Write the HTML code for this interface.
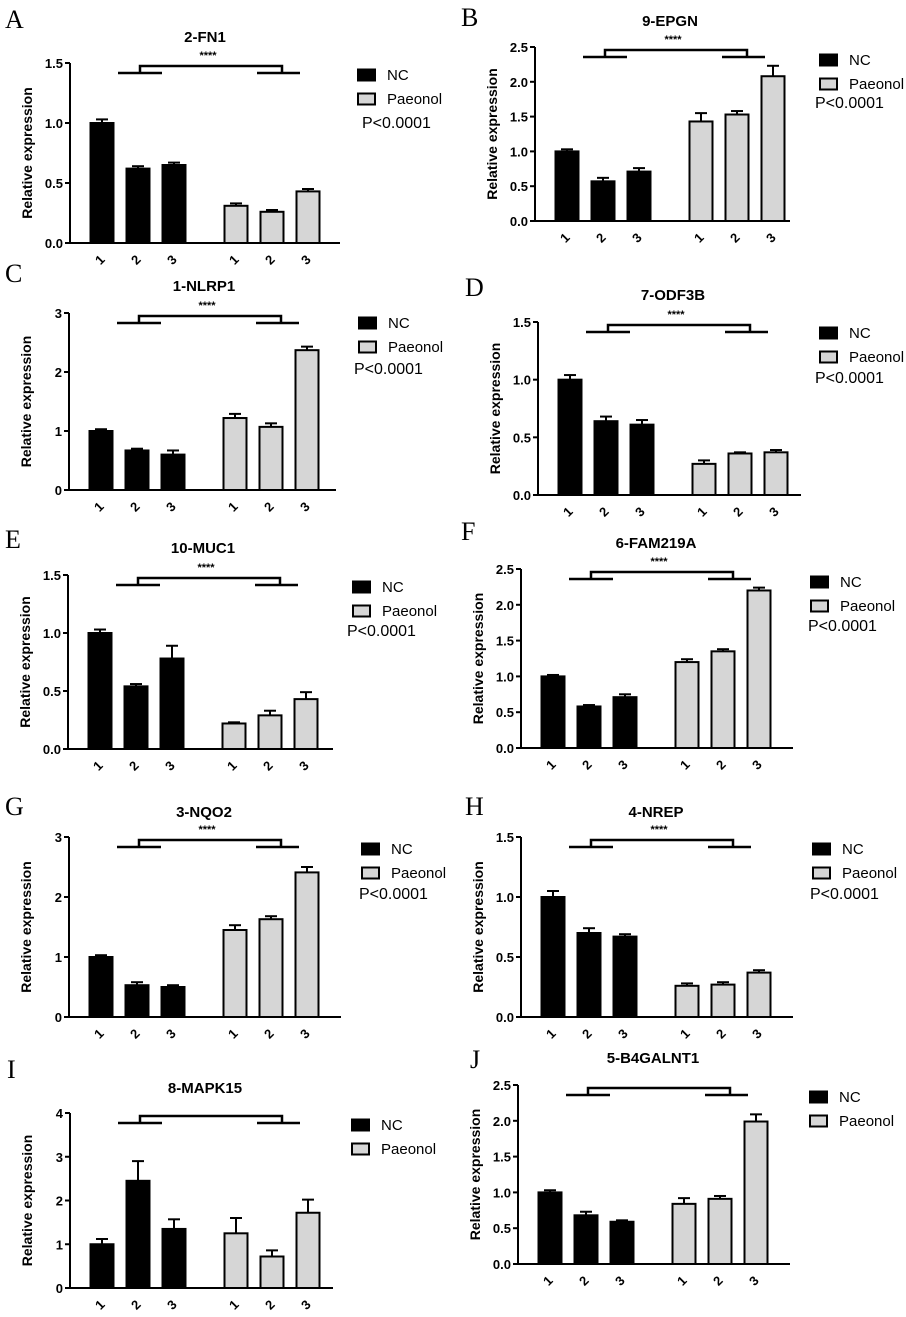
<!DOCTYPE html>
<html><head><meta charset="utf-8">
<style>
html,body{margin:0;padding:0;background:#fff;}
svg{display:block;font-family:"Liberation Sans",Arial,sans-serif;}
</style></head>
<body>
<svg id="fig" width="906" height="1317" viewBox="0 0 906 1317" xmlns="http://www.w3.org/2000/svg"></svg>
<script>
// ---- data ----
const categories = ["1","2","3"];
const groups = ["NC","Paeonol"];
const titles = ["2-FN1","9-EPGN","1-NLRP1","7-ODF3B","10-MUC1","6-FAM219A","3-NQO2","4-NREP","8-MAPK15","5-B4GALNT1"];
const letters = ["A","B","C","D","E","F","G","H","I","J"];
const yMaxes = [1.5,2.5,3,1.5,1.5,2.5,3,1.5,4,2.5];
const tickA = ["0.0","0.5","1.0","1.5"];
const tickB = ["0.0","0.5","1.0","1.5","2.0","2.5"];
const tickC = ["0","1","2","3"];
const tickI = ["0","1","2","3","4"];
const ncA=[1.0,0.62,0.65], ncAErr=[0.03,0.02,0.02], paA=[0.31,0.26,0.43], paAErr=[0.02,0.015,0.02];
const ncB=[1.0,0.57,0.71], ncBErr=[0.03,0.05,0.05], paB=[1.43,1.53,2.08], paBErr=[0.12,0.05,0.15];
const ncC=[1.0,0.67,0.60], ncCErr=[0.03,0.03,0.07], paC=[1.22,1.07,2.37], paCErr=[0.07,0.06,0.06];
const ncD=[1.0,0.64,0.61], ncDErr=[0.04,0.04,0.04], paD=[0.27,0.36,0.37], paDErr=[0.03,0.01,0.02];
const ncE=[1.0,0.54,0.78], ncEErr=[0.03,0.02,0.11], paE=[0.22,0.29,0.43], paEErr=[0.01,0.04,0.06];
const ncF=[1.0,0.58,0.71], ncFErr=[0.02,0.02,0.04], paF=[1.20,1.35,2.20], paFErr=[0.04,0.03,0.04];
const ncG=[1.0,0.53,0.50], ncGErr=[0.03,0.05,0.03], paG=[1.45,1.63,2.41], paGErr=[0.08,0.05,0.09];
const ncH=[1.0,0.70,0.67], ncHErr=[0.05,0.04,0.02], paH=[0.26,0.27,0.37], paHErr=[0.02,0.02,0.02];
const ncI=[1.0,2.45,1.35], ncIErr=[0.12,0.45,0.22], paI=[1.25,0.72,1.72], paIErr=[0.35,0.14,0.30];
const ncJ=[1.0,0.68,0.59], ncJErr=[0.03,0.05,0.02], paJ=[0.84,0.91,1.99], paJErr=[0.08,0.04,0.10];

// ---- layout (pixels) ----
const panels = [
 {ax:70, top:63, bot:243, end:340, ticks:tickA, nc:ncA, ne:ncAErr, pa:paA, pe:paAErr, lx:358, ly:75, px:362, py:128, letX:5, letY:28, tY:42, stars:true, p:true},
 {ax:535,top:47, bot:221, end:790, ticks:tickB, nc:ncB, ne:ncBErr, pa:paB, pe:paBErr, lx:820, ly:60, px:815, py:108, letX:461,letY:26, tY:26, stars:true, p:true},
 {ax:69, top:313,bot:490, end:336, ticks:tickC, nc:ncC, ne:ncCErr, pa:paC, pe:paCErr, lx:359, ly:323,px:354, py:374, letX:5, letY:282,tY:291, stars:true, p:true},
 {ax:538,top:322,bot:495, end:801, ticks:tickA, nc:ncD, ne:ncDErr, pa:paD, pe:paDErr, lx:820, ly:333,px:815, py:383, letX:465,letY:296,tY:300, stars:true, p:true},
 {ax:68, top:575,bot:749, end:333, ticks:tickA, nc:ncE, ne:ncEErr, pa:paE, pe:paEErr, lx:353, ly:587,px:347, py:636, letX:5, letY:548,tY:553, stars:true, p:true},
 {ax:521,top:569,bot:748, end:793, ticks:tickB, nc:ncF, ne:ncFErr, pa:paF, pe:paFErr, lx:811, ly:582,px:808, py:631, letX:461,letY:540,tY:548, stars:true, p:true},
 {ax:69, top:837,bot:1017,end:341, ticks:tickC, nc:ncG, ne:ncGErr, pa:paG, pe:paGErr, lx:362, ly:849,px:359, py:899, letX:5, letY:815,tY:817, stars:true, p:true},
 {ax:521,top:837,bot:1017,end:793, ticks:tickA, nc:ncH, ne:ncHErr, pa:paH, pe:paHErr, lx:813, ly:849,px:810, py:899, letX:465,letY:815,tY:817, stars:true, p:true},
 {ax:70, top:1113,bot:1288,end:333,ticks:tickI, nc:ncI, ne:ncIErr, pa:paI, pe:paIErr, lx:352, ly:1125,px:0,  py:0,   letX:7, letY:1078,tY:1093,stars:false,p:false},
 {ax:518,top:1085,bot:1264,end:790,ticks:tickB, nc:ncJ, ne:ncJErr, pa:paJ, pe:paJErr, lx:810, ly:1097,px:0,  py:0,   letX:470,letY:1068,tY:1063,stars:false,p:false}
];
const barOff = [32,68,104,166,202,238];
const BW = 23;

const NS = "http://www.w3.org/2000/svg";
const svg = document.getElementById("fig");
function mk(tag, attrs, parent, text){
  const e = document.createElementNS(NS, tag);
  for (const k in attrs) e.setAttribute(k, attrs[k]);
  if (text !== undefined) e.textContent = text;
  parent.appendChild(e);
  return e;
}

panels.forEach((P, i) => {
  const g = mk("g", {}, svg);
  
  
  const yMax = yMaxes[i];
  const yS = v => P.bot - (v / yMax) * (P.bot - P.top);

  const let_ = mk("text", {x:P.letX, y:P.letY, "font-family":"'Liberation Serif',serif", "font-size":26}, g, letters[i]);
  
  

  const t = mk("text", {x:P.ax + 135, y:P.tY, "text-anchor":"middle", "font-size":15, "font-weight":"bold"}, g, titles[i]);
  
  

  const ya = mk("line", {x1:P.ax, y1:P.top, x2:P.ax, y2:P.bot+1, stroke:"#000", "stroke-width":2}, g);
  
  
  const xa = mk("line", {x1:P.ax-1, y1:P.bot, x2:P.end, y2:P.bot, stroke:"#000", "stroke-width":2}, g);
  
  

  P.ticks.forEach((lab) => {
    const v = parseFloat(lab);
    const y = yS(v);
    mk("line", {x1:P.ax-5, y1:y, x2:P.ax, y2:y, stroke:"#000", "stroke-width":2}, g);
    const tl = mk("text", {x:P.ax-7, y:y+5, "text-anchor":"end", "font-size":13, "font-weight":"bold"}, g, lab);
    
    
  });

  const yl = mk("text", {x:0, y:0, transform:`translate(${P.ax-38},${(P.top+P.bot)/2}) rotate(-90)`, "text-anchor":"middle", "font-size":14, "font-weight":"bold"}, g, "Relative expression");
  
  

  const vals = P.nc.concat(P.pa);
  const errs = P.ne.concat(P.pe);
  vals.forEach((v, k) => {
    const x = P.ax + barOff[k];
    const y = yS(v);
    const ye = yS(v + errs[k]);
    const nc = k < 3;
    const el = mk("line", {x1:x, y1:y, x2:x, y2:ye, stroke:"#000", "stroke-width":2}, g);
    
    
    mk("line", {x1:x-6, y1:ye, x2:x+6, y2:ye, stroke:"#000", "stroke-width":2}, g);
    const r = mk("rect", {x:x-BW/2, y:y, width:BW, height:P.bot-y, fill: nc ? "#000" : "#d6d6d6", stroke:"#000", "stroke-width":2}, g);
    
    
    const xl = mk("text", {x:0, y:0, transform:`translate(${x+1},${P.bot+20}) rotate(-45)`, "text-anchor":"middle", "font-size":13, "font-weight":"bold"}, g, categories[k%3]);
    
    
  });

  const lo = P.top + 10, hi = P.top + 3;
  const br = mk("path", {d:`M${P.ax+48},${lo}H${P.ax+92}M${P.ax+70},${lo}V${hi}H${P.ax+212}V${lo}M${P.ax+187},${lo}H${P.ax+230}`, fill:"none", stroke:"#000", "stroke-width":2.5}, g);
  
  
  if (P.stars) {
    const st = mk("text", {x:P.ax+138, y:P.top-4, "text-anchor":"middle", "font-size":11, "font-weight":"bold"}, g, "****");
    
    
  }

  groups.forEach((name, k) => {
    const y = P.ly + k*24;
    const sw = mk("rect", {x:P.lx, y:y-5.5, width:17, height:11, fill: k===0 ? "#000" : "#d6d6d6", stroke:"#000", "stroke-width":2}, g);
    
    
    const lt = mk("text", {x:P.lx+29, y:y+5, "font-size":15}, g, name);
    
    
  });
  if (P.p) {
    const pt = mk("text", {x:P.px, y:P.py, "font-size":16}, g, "P<0.0001");
    
    
  }
});
</script>
</body></html>
